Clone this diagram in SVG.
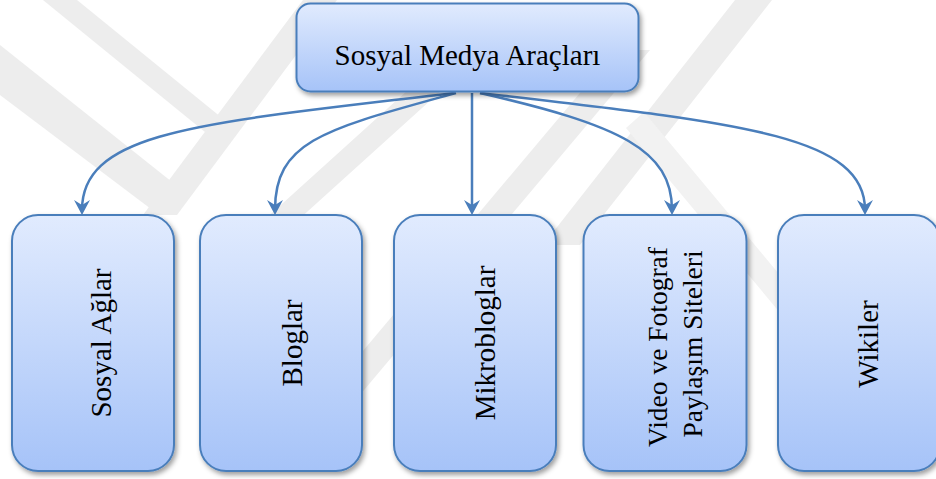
<svg xmlns="http://www.w3.org/2000/svg" width="936" height="479" viewBox="0 0 936 479">
  <defs>
    <linearGradient id="boxFill" x1="0" y1="0" x2="0" y2="1">
      <stop offset="0" stop-color="#e1ebfe"/>
      <stop offset="1" stop-color="#a6c3f8"/>
    </linearGradient>
    <filter id="shadow" x="-10%" y="-10%" width="125%" height="125%">
      <feDropShadow dx="2" dy="3" stdDeviation="2.5" flood-color="#000" flood-opacity="0.38"/>
    </filter>
    <marker id="arrow" markerUnits="userSpaceOnUse" viewBox="0 0 20 20" markerWidth="20" markerHeight="20" refX="10" refY="10" orient="auto">
      <path d="M15,10 L0,2 L5,10 L0,18 Z" fill="#4a7ebb"/>
    </marker>
    <style>
      .box { fill: url(#boxFill); stroke: #4a7ebb; stroke-width: 2; filter: url(#shadow); }
      .label { font-family: "Liberation Serif", "Times New Roman", serif; font-size: 29px; fill: #000; }
      .small { font-size: 27.5px; }
      .conn { fill: none; stroke: #4a7ebb; stroke-width: 2.5; marker-end: url(#arrow); }
      .mark { fill: #ededed; }
      .mark-light { fill: #f2f2f2; }
    </style>
  </defs>

  <rect width="936" height="479" fill="#ffffff"/>

  <!-- faint background mark: diagonal bands -->
  <g id="background-mark">
    <polygon class="mark" points="43,0 77,0 222,118 205,132"/>
    <polygon class="mark" points="303,0 337,0 177,215 143,215"/>
    <polygon class="mark" points="0,45 0,95 155,212 172,182"/>
    <polygon class="mark" points="419,80 453,80 276,240 242,240"/>
    <polygon class="mark" points="616,50 650,50 354,402 320,402"/>
    <polygon class="mark" points="735,0 772,0 580,245 543,245"/>
    <polygon class="mark-light" points="644,112 799,298 781,314 626,128"/>
  </g>

  <!-- connectors -->
  <g id="connectors">
    <path class="conn" d="M454,93 C204,123 82,130 82,210"/>
    <path class="conn" d="M456,93 C326,129 275,140 275,210"/>
    <path class="conn" d="M472,93 L472,210"/>
    <path class="conn" d="M480,93 C620,125 672,150 672,210"/>
    <path class="conn" d="M480,93 C740,123 865,135 865,210"/>
  </g>

  <g id="node-root">
    <rect class="box" x="296.5" y="3.5" width="342" height="88" rx="14"/>
    <text class="label" x="467.5" y="65" text-anchor="middle">Sosyal Medya Araçları</text>
  </g>

  <g id="node-sosyal-aglar">
    <rect class="box" x="12" y="215" width="162" height="256" rx="26"/>
    <text class="label" transform="translate(110.5,343) rotate(-90)" text-anchor="middle">Sosyal Ağlar</text>
  </g>

  <g id="node-bloglar">
    <rect class="box" x="200" y="215" width="162" height="256" rx="26"/>
    <text class="label" transform="translate(301.5,343) rotate(-90)" text-anchor="middle">Bloglar</text>
  </g>

  <g id="node-mikrobloglar">
    <rect class="box" x="394" y="215" width="162" height="256" rx="26"/>
    <text class="label" transform="translate(494.5,343) rotate(-90)" text-anchor="middle">Mikrobloglar</text>
  </g>

  <g id="node-video-fotograf">
    <rect class="box" x="583.5" y="215" width="163" height="256" rx="26"/>
    <text class="label small" transform="translate(666.5,347) rotate(-90)" text-anchor="middle">Video ve Fotograf</text>
    <text class="label small" transform="translate(701.5,344) rotate(-90)" text-anchor="middle">Paylaşım Siteleri</text>
  </g>

  <g id="node-wikiler">
    <rect class="box" x="778" y="215" width="162" height="256" rx="26"/>
    <text class="label" transform="translate(878,344) rotate(-90)" text-anchor="middle">Wikiler</text>
  </g>
</svg>
